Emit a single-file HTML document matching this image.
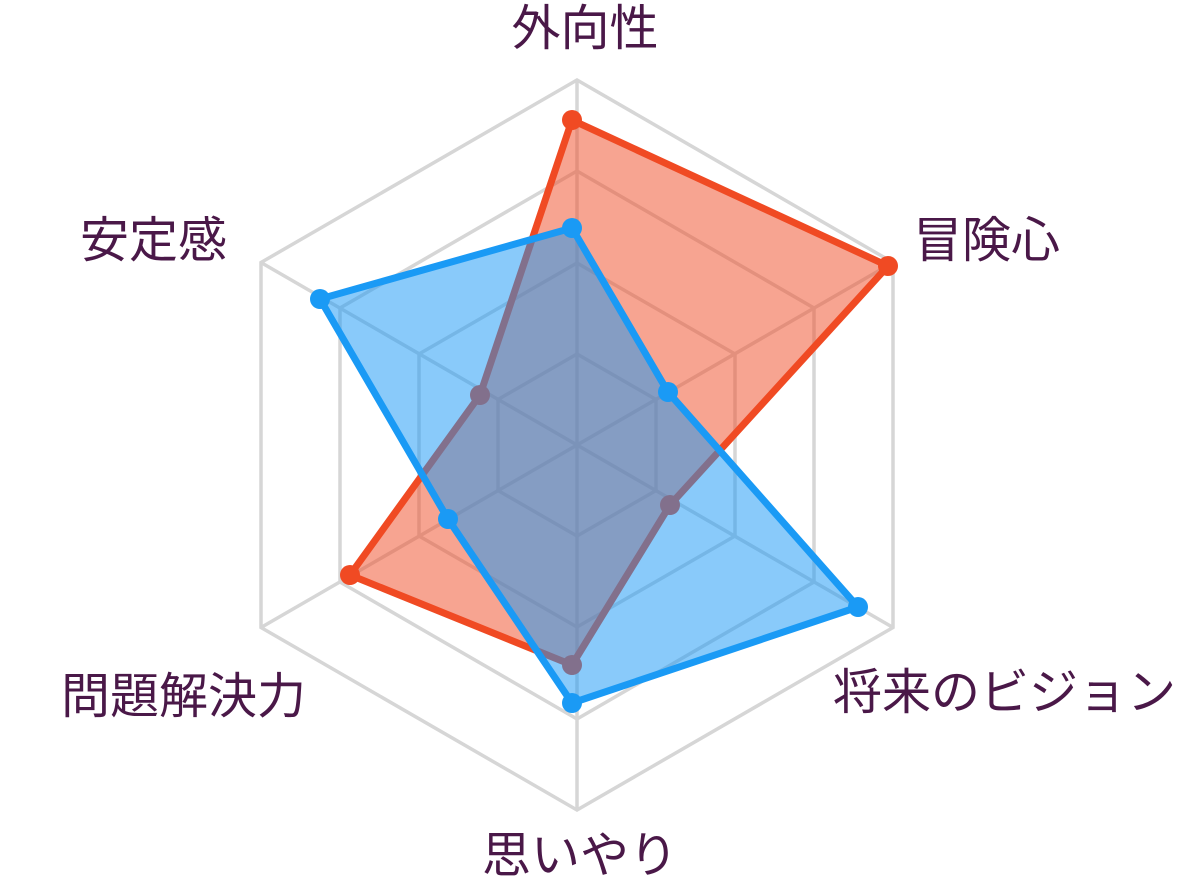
<!DOCTYPE html>
<html><head><meta charset="utf-8"><style>
html,body{margin:0;padding:0;background:#fff;}
svg{display:block}
text{font-family:"Liberation Sans","Noto Sans CJK JP",sans-serif;font-size:49px;fill:#4a1848;}
</style></head><body>
<svg width="1192" height="891" viewBox="0 0 1192 891">
<g fill="none" stroke="#d6d6d6" stroke-width="3.5">
<polygon points="577,80 893,262.5 893,627.5 577,810 261,627.5 261,262.5"/>
<polygon points="577,171 814,308 814,582 577,719 340,582 340,308"/>
<polygon points="577,263 735,354 735,536 577,627 419,536 419,354"/>
<polygon points="577,354 656,399.5 656,490.5 577,536 498,490.5 498,399.5"/>
<line x1="577" y1="80" x2="577" y2="810"/>
<line x1="261" y1="262.5" x2="893" y2="627.5"/>
<line x1="261" y1="627.5" x2="893" y2="262.5"/>
</g>
<g>
<polygon points="572,120 888,266 670,505 572,665 350,575 480,395" fill="rgba(240,74,35,0.5)" stroke="#f04a23" stroke-width="7" stroke-linejoin="round"/>
<g fill="#f04a23"><circle cx="572" cy="120" r="10"/><circle cx="888" cy="266" r="10"/><circle cx="670" cy="505" r="10"/><circle cx="572" cy="665" r="10"/><circle cx="350" cy="575" r="10"/><circle cx="480" cy="395" r="10"/></g>
<polygon points="572,228 668,392 858,607 572,703 448,519 320,299" fill="rgba(20,150,245,0.5)" stroke="#1a9af5" stroke-width="7" stroke-linejoin="round"/>
<g fill="#1a9af5"><circle cx="572" cy="228" r="10"/><circle cx="668" cy="392" r="10"/><circle cx="858" cy="607" r="10"/><circle cx="572" cy="703" r="10"/><circle cx="448" cy="519" r="10"/><circle cx="320" cy="299" r="10"/></g>
</g>
<text x="585" y="45" text-anchor="middle">外向性</text>
<text x="913" y="257">冒険心</text>
<text x="833" y="709">将来のビジョン</text>
<text x="580" y="872" text-anchor="middle">思いやり</text>
<text x="306" y="713" text-anchor="end">問題解決力</text>
<text x="227" y="257" text-anchor="end">安定感</text>
</svg>
</body></html>
